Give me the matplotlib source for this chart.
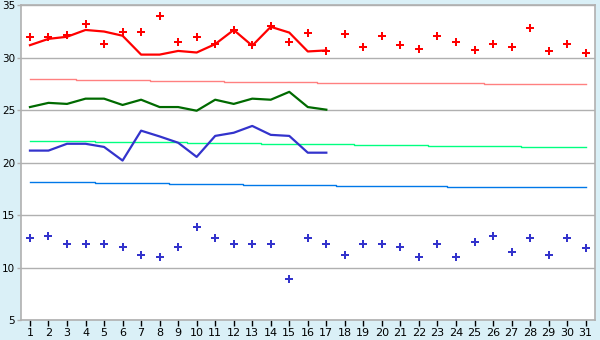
import numpy as np
import matplotlib.pyplot as plt

days = list(range(1, 32))
line_days = list(range(1, 18))

red_points = [32.0, 32.0, 32.2, 33.2, 31.3, 32.5, 32.5, 34.0, 31.5, 32.0,
              31.3, 32.6, 31.2, 33.0, 31.5, 32.4, 30.6, 32.3, 31.0, 32.1,
              31.2, 30.8, 32.1, 31.5, 30.7, 31.3, 31.0, 32.8, 30.6, 31.3, 30.5]
blue_points = [12.8, 13.0, 12.2, 12.2, 12.2, 12.0, 11.2, 11.0, 12.0, 13.9,
               12.8, 12.2, 12.2, 12.2, 8.9, 12.8, 12.2, 11.2, 12.2, 12.2,
               12.0, 11.0, 12.2, 11.0, 12.4, 13.0, 11.5, 12.8, 11.2, 12.8, 11.9]

red_line = [31.2, 31.8, 32.0, 32.65, 32.5, 32.1, 30.3, 30.3, 30.65, 30.5,
            31.3, 32.65, 31.15, 32.95, 32.4, 30.6, 30.7]
green_line = [25.3, 25.7, 25.6, 26.1, 26.1, 25.5, 26.0, 25.3, 25.3, 24.95,
              26.0, 25.6, 26.1, 26.0, 26.75, 25.3, 25.05]
blue_line = [21.15, 21.15, 21.8, 21.8, 21.5, 20.2, 23.05, 22.5, 21.9, 20.55,
             22.55, 22.85, 23.5, 22.65, 22.55, 20.95, 20.95]

# slowly falling reference levels, one value per day
pink_ref = [27.94] * 3 + [27.85] * 4 + [27.76] * 4 + [27.66] * 5 + [27.56] * 9 + [27.47] * 6
green_ref = [22.03] * 4 + [21.94] * 5 + [21.84] * 4 + [21.75] * 5 + [21.65] * 4 + [21.56] * 5 + [21.46] * 4
blue_ref = [18.13] * 4 + [18.03] * 4 + [17.94] * 4 + [17.84] * 5 + [17.75] * 6 + [17.65] * 8

bg = "#daf0f7"
grid_c = "#b0b0b0"

fig = plt.figure(figsize=(6, 3.4), dpi=100, facecolor=bg)
ax = fig.add_axes([0.0345, 0.0588, 0.957, 0.9256])
ax.set_facecolor("white")

ax.plot(days, pink_ref, color="#ff8080", lw=1, drawstyle="steps-mid")
ax.plot(days, green_ref, color="#00ff80", lw=1, drawstyle="steps-mid")
ax.plot(days, blue_ref, color="#0078e8", lw=1, drawstyle="steps-mid")

ax.plot(line_days, red_line, color="#ff0000", lw=1.6)
ax.plot(line_days, green_line, color="#006a00", lw=1.6)
ax.plot(line_days, blue_line, color="#3333cc", lw=1.6)

ax.plot(days, red_points, ls="none", marker="P", ms=5.2, color="#ff0000", mew=0)
ax.plot(days, blue_points, ls="none", marker="P", ms=5.2, color="#3333cc", mew=0)

ax.set_xlim(0.5, 31.5)
ax.set_ylim(5, 35)
ax.set_xticks(days)
ax.set_yticks(range(5, 36, 5))
ax.yaxis.grid(True, color=grid_c, lw=1)
ax.set_axisbelow(True)
for s in ax.spines.values():
    s.set_color(grid_c)
    s.set_linewidth(1.2)
ax.tick_params(colors="black", labelsize=8, length=4, width=1, pad=2)
ax.tick_params(axis="y", length=3, color=grid_c, pad=1, labelsize=7.5)

fig.savefig("out.png", dpi=100, facecolor=bg)
